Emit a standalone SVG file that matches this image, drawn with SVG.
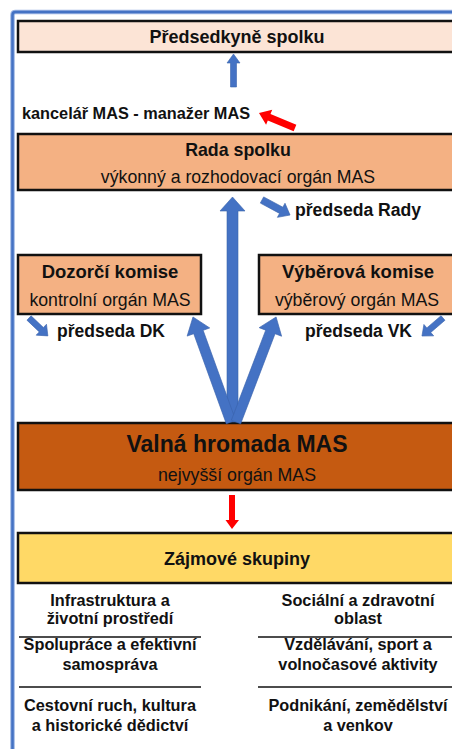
<svg xmlns="http://www.w3.org/2000/svg" width="452" height="749" viewBox="0 0 452 749">
<style>
  text { font-family: "Liberation Sans", Arial, sans-serif; fill: #111; text-anchor: middle; }
  .b { font-weight: bold; }
  .l { text-anchor: start; }
  .box { stroke: #111; stroke-width: 2.5; }
  .blue { fill: #4472c4; stroke: #3b64ad; stroke-width: 0.6; }
  .red { fill: #ff0000; }
  .rule { stroke: #111; stroke-width: 1.5; }
</style>
<rect width="452" height="749" fill="#ffffff"/>
<path d="M12.5 749 V15 Q12.5 12 15.5 12 H460" fill="none" stroke="#9bb5e3" stroke-width="4.5"/>
<path d="M12.5 749 V15 Q12.5 12 15.5 12 H460" fill="none" stroke="#4472c4" stroke-width="2.5"/>

<g id="predsedkyne">
  <rect class="box" x="18" y="21" width="442" height="31" fill="#fce4d6"/>
  <text class="b" x="237" y="43" font-size="18">Předsedkyně spolku</text>
</g>

<g id="kancelar">
  <text class="b l" x="22" y="119" font-size="16.3">kancelář MAS - manažer MAS</text>
</g>

<g id="rada">
  <rect class="box" x="18" y="134" width="442" height="56" fill="#f4b183"/>
  <text class="b" x="238" y="156" font-size="17.8">Rada spolku</text>
  <text x="238" y="183" font-size="17.7">výkonný a rozhodovací orgán MAS</text>
</g>

<g id="predseda-rady">
  <text class="b l" x="295" y="216" font-size="17.6">předseda Rady</text>
</g>

<g id="dozorci">
  <rect class="box" x="18" y="255" width="183" height="59" fill="#f4b183"/>
  <text class="b" x="110" y="278" font-size="18.5">Dozorčí komise</text>
  <text x="110" y="306" font-size="17.7">kontrolní orgán MAS</text>
</g>

<g id="vyberova">
  <rect class="box" x="259" y="255" width="201" height="59" fill="#f4b183"/>
  <text class="b" x="358" y="278" font-size="18.5">Výběrová komise</text>
  <text x="357" y="306" font-size="17.7">výběrový orgán MAS</text>
</g>

<g id="predseda-dk">
  <text class="b l" x="57" y="337" font-size="17.5">předseda DK</text>
</g>
<g id="predseda-vk">
  <text class="b l" x="305" y="337" font-size="17.5">předseda VK</text>
</g>

<g id="valna">
  <rect class="box" x="18" y="423" width="442" height="67" fill="#c55a11"/>
  <text class="b" x="237" y="452" font-size="23">Valná hromada MAS</text>
  <text x="237" y="481" font-size="17.8">nejvyšší orgán MAS</text>
</g>

<g id="zajmove">
  <rect class="box" x="18" y="533" width="442" height="50" fill="#ffd966"/>
  <text class="b" x="237" y="565" font-size="18">Zájmové skupiny</text>
</g>

<g id="skupiny" class="b" font-size="16.3">
  <text class="b" x="110" y="606">Infrastruktura a</text>
  <text class="b" x="110" y="624">životní prostředí</text>
  <text class="b" x="110" y="650">Spolupráce a efektivní</text>
  <text class="b" x="110" y="670">samospráva</text>
  <text class="b" x="110" y="711">Cestovní ruch, kultura</text>
  <text class="b" x="110" y="731">a historické dědictví</text>
  <text class="b" x="358" y="606">Sociální a zdravotní</text>
  <text class="b" x="358" y="624">oblast</text>
  <text class="b" x="358" y="650">Vzdělávání, sport a</text>
  <text class="b" x="358" y="670">volnočasové aktivity</text>
  <text class="b" x="358" y="711">Podnikání, zemědělství</text>
  <text class="b" x="358" y="731">a venkov</text>
  <line class="rule" x1="19" y1="637" x2="201" y2="637"/>
  <line class="rule" x1="19" y1="687" x2="201" y2="687"/>
  <line class="rule" x1="258" y1="637" x2="460" y2="637"/>
  <line class="rule" x1="258" y1="687" x2="460" y2="687"/>
</g>

<g id="connectors">
  <polygon class="blue" points="233.5,54 240,63 236.5,63 236.5,87 230.5,87 230.5,63 227,63"/>
  <polygon class="blue" points="232.5,197 245,211 238,211 238,422 227,422 227,211 220,211"/>
  <polygon class="blue" transform="translate(231,422) rotate(-19.9)" points="-5,0 -5,-95.7 -12,-95.7 0,-111.7 12,-95.7 5,-95.7 5,0"/>
  <polygon class="blue" transform="translate(236,422) rotate(20.9)" points="-5,0 -5,-96.4 -12,-96.4 0,-112.4 12,-96.4 5,-96.4 5,0"/>
  <polygon class="blue" transform="translate(262,200) rotate(28.2)" points="0,-3.5 21.8,-3.5 21.8,-8 31.8,0 21.8,8 21.8,3.5 0,3.5"/>
  <polygon class="blue" transform="translate(29,318) rotate(43.5)" points="0,-3 17,-3 17,-7.5 26,0 17,7.5 17,3 0,3"/>
  <polygon class="blue" transform="translate(443,318) rotate(139.4)" points="0,-3 18.7,-3 18.7,-7.5 27.7,0 18.7,7.5 18.7,3 0,3"/>
  <polygon class="red" transform="translate(295,128) rotate(-157.4)" points="0,-3.5 28,-3.5 28,-8 39,0 28,8 28,3.5 0,3.5"/>
  <polygon class="red" points="229,495 235,495 235,520 239,520 232,529 225.5,520 229,520"/>
</g>
</svg>
